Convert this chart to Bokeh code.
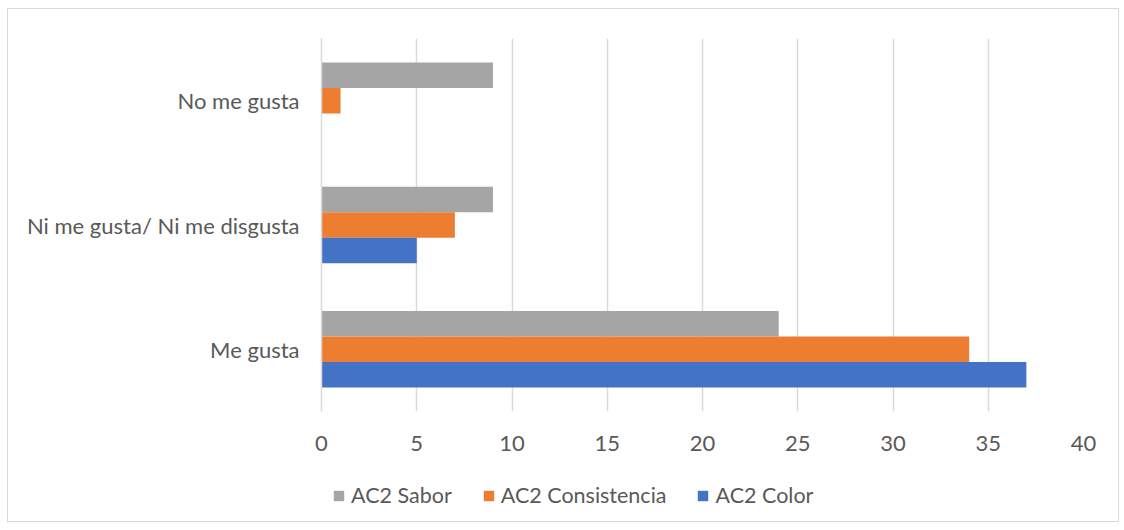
from bokeh.plotting import figure
from bokeh.layouts import column
from bokeh.models import ColumnDataSource, FactorRange, Range1d, FixedTicker, Legend, LegendItem
from bokeh.transform import dodge
from bokeh.embed import file_html
from bokeh.resources import INLINE

categories = ["Me gusta", "Ni me gusta/ Ni me disgusta", "No me gusta"]
ac2_color = [37, 5, 0]
ac2_consistencia = [34, 7, 1]
ac2_sabor = [24, 9, 9]
x_ticks = [0, 5, 10, 15, 20, 25, 30, 35, 40]

series = [("AC2 Sabor", "sabor", "#A5A5A5"),
          ("AC2 Consistencia", "cons", "#ED7D31"),
          ("AC2 Color", "color", "#4472C4")]

FONT = "Lato"
TEXT = "#595959"
GRID = "#D9D9D9"
BAR_H = 0.205

source = ColumnDataSource(dict(cat=categories, color=ac2_color,
                               cons=ac2_consistencia, sabor=ac2_sabor))

# main bar chart
p = figure(width=1110, height=458, output_backend="svg", toolbar_location=None,
           y_range=FactorRange(factors=categories, range_padding=0, factor_padding=0),
           x_range=Range1d(0, 40),
           min_border_left=313, min_border_right=35, min_border_top=29, min_border_bottom=56)
p.outline_line_color = None

offsets = [BAR_H, 0, -BAR_H]
for (label, field, col), off in zip(series, offsets):
    p.hbar(y=dodge("cat", off, range=p.y_range), right=field, left=0, height=BAR_H,
           source=source, fill_color=col, line_color=None)

p.xaxis.ticker = FixedTicker(ticks=x_ticks)
p.xaxis.axis_line_color = None
p.xaxis.major_tick_line_color = None
p.xaxis.minor_tick_line_color = None
p.xaxis.major_tick_out = 0
p.xaxis.major_label_standoff = 24
p.yaxis.axis_line_color = GRID
p.yaxis.axis_line_width = 1.5
p.yaxis.major_tick_line_color = None
p.yaxis.minor_tick_line_color = None
p.yaxis.major_tick_out = 0
p.yaxis.major_label_standoff = 22
for ax in (p.xaxis[0], p.yaxis[0]):
    ax.major_label_text_font = FONT
    ax.major_label_text_font_size = "22px"
    ax.major_label_text_color = TEXT

p.xgrid.grid_line_color = GRID
p.xgrid.grid_line_width = 1.5
p.ygrid.grid_line_color = None

# legend strip under the chart; its swatch renderers have zero height
lg = figure(width=1110, height=54, output_backend="svg", toolbar_location=None,
            x_range=Range1d(-2, -1), y_range=FactorRange(factors=categories),
            x_axis_type=None, y_axis_type=None,
            min_border_left=0, min_border_right=0, min_border_top=0, min_border_bottom=0)
lg.outline_line_color = None
lg.xgrid.visible = False
lg.ygrid.visible = False
items = []
for label, field, col in series:
    r = lg.hbar(y="cat", right=field, left=0, height=0, source=source,
                fill_color=col, line_color=None)
    items.append(LegendItem(label=label, renderers=[r]))

legend = Legend(items=items, orientation="horizontal", location=(11, 13),
                label_text_font=FONT, label_text_font_size="21.5px", label_text_color=TEXT,
                glyph_width=13, glyph_height=13, spacing=30, label_standoff=6,
                border_line_color=None, background_fill_alpha=0, padding=0, margin=0)
lg.add_layout(legend, "center")

layout = column(p, lg, spacing=0)
layout.margin = (8, 0, 0, 7)
layout.styles = {"border": "1px solid #D9D9D9"}

open("out.html", "w").write(file_html(layout, INLINE))
